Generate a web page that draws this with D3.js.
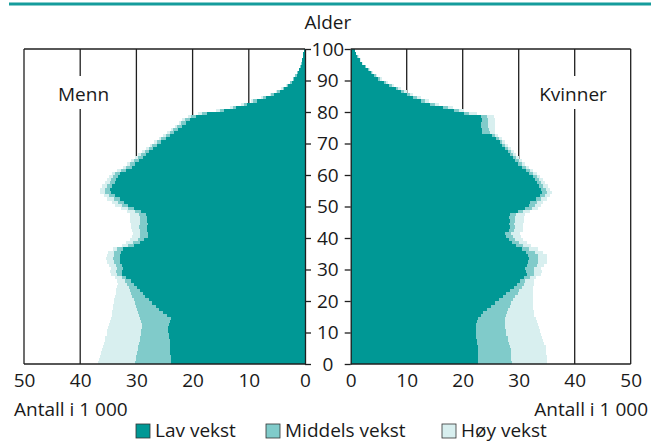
<!DOCTYPE html>
<html>
<head>
<meta charset="utf-8">
<script src="https://cdn.jsdelivr.net/npm/d3@7"></script>
<style>
  body { margin: 0; background: #fff; }
  svg { display: block; font-family: "Open Sans", "Noto Sans", sans-serif; }
</style>
</head>
<body>
<svg id="chart" width="651" height="443"></svg>
<script>
// ages 0..99, values in 1 000 persons
const ages = d3.range(0, 100);

const menLav = [
  23.8, 23.9, 23.9, 24.0, 24.0, 24.0, 24.1, 24.1, 24.2, 24.2,
  24.3, 24.3, 24.2, 24.0, 23.9, 24.6, 25.2, 25.9, 26.6, 27.2,
  27.8, 28.4, 28.9, 29.4, 29.9, 30.4, 31.0, 31.8, 32.5, 32.6,
  32.4, 32.6, 32.9, 33.0, 32.9, 32.8, 32.4, 30.5, 29.4, 28.6,
  28.0, 27.9, 28.1, 28.2, 28.0, 28.2, 28.1, 28.3, 29.2, 30.5,
  31.5, 32.2, 33.0, 33.8, 34.5, 34.7, 34.3, 33.8, 33.6, 33.3,
  32.9, 31.8, 30.8, 30.2, 29.6, 28.9, 28.3, 27.7, 27.0, 26.4,
  25.6, 24.8, 24.0, 23.3, 22.6, 21.9, 21.2, 20.5, 19.4, 17.5,
  14.5, 12.2, 10.3, 8.6, 6.9, 5.6, 4.5, 3.7, 3.0, 2.4,
  1.9, 1.5, 1.2, 1.0, 0.8, 0.6, 0.5, 0.4, 0.3, 0.2
];
const menMiddels = [
  30.2, 30.1, 30.0, 29.9, 29.8, 29.7, 29.6, 29.4, 29.3, 29.2,
  29.1, 29.0, 29.0, 29.1, 29.3, 29.5, 29.7, 29.9, 30.1, 30.3,
  30.5, 30.7, 30.9, 31.1, 31.4, 31.7, 32.0, 32.5, 33.4, 33.6,
  33.5, 33.7, 33.9, 34.1, 34.0, 33.9, 33.5, 31.5, 30.6, 29.8,
  29.3, 29.3, 29.4, 29.5, 29.3, 29.4, 29.4, 29.6, 30.2, 31.5,
  32.5, 33.2, 34.0, 34.8, 35.5, 35.6, 35.2, 34.7, 34.5, 34.2,
  33.8, 32.8, 31.8, 31.1, 30.5, 29.8, 29.2, 28.5, 27.8, 27.2,
  26.4, 25.6, 24.8, 24.1, 23.4, 22.7, 22.0, 21.3, 20.2, 18.3,
  15.2, 12.8, 10.9, 9.2, 7.4, 6.0, 4.9, 4.0, 3.2, 2.6,
  2.1, 1.7, 1.4, 1.1, 0.9, 0.7, 0.5, 0.4, 0.3, 0.2
];
const menHoy = [
  36.8, 36.6, 36.4, 36.3, 36.2, 36.0, 35.8, 35.6, 35.5, 35.3,
  35.2, 35.0, 34.8, 34.7, 34.5, 34.4, 34.3, 34.2, 34.1, 34.0,
  33.9, 33.8, 33.7, 33.6, 33.5, 33.3, 33.5, 33.8, 34.5, 34.7,
  34.6, 34.9, 35.2, 35.4, 35.3, 35.1, 34.2, 32.5, 31.9, 31.2,
  30.7, 30.6, 30.8, 31.0, 30.9, 31.1, 31.1, 31.2, 31.6, 32.8,
  33.8, 34.4, 35.2, 35.8, 36.4, 36.5, 36.1, 35.6, 35.3, 34.9,
  34.4, 33.4, 32.3, 31.6, 31.0, 30.3, 29.7, 29.0, 28.3, 27.6,
  26.8, 26.0, 25.3, 24.6, 23.9, 23.2, 22.5, 21.9, 20.9, 19.0,
  15.8, 13.3, 11.4, 9.6, 7.8, 6.3, 5.1, 4.2, 3.4, 2.7,
  2.2, 1.8, 1.4, 1.1, 0.9, 0.7, 0.5, 0.4, 0.3, 0.2
];

const kvinnerLav = [
  22.8, 22.8, 22.8, 22.7, 22.7, 22.7, 22.6, 22.5, 22.4, 22.4,
  22.3, 22.3, 22.4, 22.6, 22.8, 23.2, 23.7, 24.4, 25.1, 25.8,
  26.5, 27.2, 27.8, 28.4, 29.1, 29.7, 30.3, 31.0, 31.4, 31.3,
  31.2, 31.5, 31.7, 31.8, 31.7, 31.3, 30.6, 29.6, 28.8, 28.2,
  27.8, 27.6, 28.2, 28.4, 28.3, 28.4, 28.3, 28.5, 29.8, 31.2,
  31.9, 32.1, 33.0, 33.8, 34.2, 34.0, 33.6, 33.2, 32.9, 32.5,
  31.9, 31.3, 30.6, 29.9, 29.4, 28.9, 28.5, 28.1, 27.6, 27.0,
  26.6, 26.0, 25.3, 23.5, 23.4, 23.3, 23.3, 23.4, 23.2, 20.3,
  18.5, 16.5, 14.2, 12.6, 11.2, 10.0, 9.0, 8.0, 6.9, 5.9,
  4.9, 4.2, 3.6, 3.0, 2.5, 2.0, 1.6, 1.2, 0.9, 0.7
];
const kvinnerMiddels = [
  28.8, 28.7, 28.7, 28.6, 28.6, 28.5, 28.3, 28.1, 28.0, 27.8,
  27.7, 27.6, 27.6, 27.6, 27.6, 27.8, 27.9, 28.1, 28.4, 28.7,
  29.0, 29.4, 29.8, 30.1, 30.5, 30.9, 31.2, 32.0, 32.8, 32.8,
  32.7, 33.2, 33.5, 33.5, 33.4, 32.9, 31.9, 30.8, 30.0, 29.3,
  28.9, 28.7, 29.2, 29.3, 29.2, 29.4, 29.4, 29.6, 30.8, 32.3,
  32.9, 33.2, 34.0, 34.7, 35.0, 34.8, 34.4, 34.0, 33.6, 33.2,
  32.6, 32.0, 31.3, 30.5, 30.0, 29.5, 29.0, 28.6, 28.1, 27.5,
  27.1, 26.5, 25.8, 24.8, 24.7, 24.5, 24.5, 24.6, 24.3, 21.2,
  19.3, 17.3, 15.0, 13.3, 11.8, 10.6, 9.5, 8.5, 7.4, 6.3,
  5.3, 4.5, 3.8, 3.2, 2.7, 2.1, 1.7, 1.3, 1.0, 0.7
];
const kvinnerHoy = [
  35.1, 35.0, 35.0, 34.9, 34.9, 34.8, 34.6, 34.4, 34.2, 34.0,
  33.8, 33.6, 33.4, 33.2, 33.0, 32.8, 32.7, 32.6, 32.6, 32.6,
  32.6, 32.6, 32.6, 32.6, 32.6, 32.7, 32.8, 33.0, 34.0, 34.1,
  34.0, 34.6, 35.0, 35.1, 35.0, 34.3, 33.4, 32.2, 31.5, 30.8,
  30.4, 30.2, 30.7, 30.8, 30.8, 31.0, 31.0, 31.2, 32.1, 33.5,
  34.0, 34.4, 35.1, 35.6, 35.9, 35.6, 35.2, 34.7, 34.3, 33.8,
  33.3, 32.6, 31.9, 31.1, 30.6, 30.0, 29.6, 29.1, 28.6, 28.0,
  27.6, 27.0, 26.3, 25.8, 25.8, 25.7, 25.7, 25.8, 25.6, 22.5,
  20.3, 18.2, 15.8, 14.0, 12.5, 11.2, 10.0, 9.0, 7.8, 6.7,
  5.6, 4.7, 4.0, 3.4, 2.8, 2.2, 1.8, 1.4, 1.0, 0.8
];

const xTicks = [0, 10, 20, 30, 40, 50];
const yTicks = [0, 10, 20, 30, 40, 50, 60, 70, 80, 90, 100];
const seriesNames = ["Lav vekst", "Middels vekst", "Høy vekst"];
const colors = ["#009895", "#80cbca", "#d8efef"];

const svg = d3.select("#chart");
const fontSize = 19;

// scales
const y = d3.scaleLinear().domain([0, 100]).range([364, 49]);
const xL = d3.scaleLinear().domain([0, 50]).range([305, 24]);
const xR = d3.scaleLinear().domain([0, 50]).range([350.7, 630.7]);

// teal rule on top
svg.append("line")
  .attr("x1", 9).attr("x2", 651).attr("y1", 4).attr("y2", 4)
  .attr("stroke", "#159c9c").attr("stroke-width", 3);

// grid lines (under the bars)
function grid(x) {
  svg.append("g").selectAll("line")
    .data(xTicks.slice(1))
    .join("line")
    .attr("x1", d => x(d)).attr("x2", d => x(d))
    .attr("y1", y(100)).attr("y2", y(0))
    .attr("stroke", "#1f1f1f").attr("stroke-width", 1.3);
}
grid(xL);
grid(xR);

// labels breaking the grid lines
function panelLabel(text, cx) {
  const g = svg.append("g");
  g.append("rect")
    .attr("x", cx - 40).attr("y", 76).attr("width", 80).attr("height", 33)
    .attr("fill", "#fff");
  g.append("text")
    .attr("x", cx).attr("y", 101)
    .attr("text-anchor", "middle")
    .attr("font-size", fontSize).attr("fill", "#1a1a1a")
    .text(text);
}
panelLabel("Menn", 83.5);
panelLabel("Kvinner", 573);

// bars: høy behind, then middels, then lav in front
const menSeries = [menLav, menMiddels, menHoy];
const womenSeries = [kvinnerLav, kvinnerMiddels, kvinnerHoy];

function drawSide(series, x, left) {
  const g = svg.append("g").attr("shape-rendering", "crispEdges");
  [2, 1, 0].forEach(i => {
    g.append("g").selectAll("rect")
      .data(ages)
      .join("rect")
      .attr("x", a => left ? x(series[i][a]) : x(0))
      .attr("width", a => Math.abs(x(series[i][a]) - x(0)))
      .attr("y", a => y(a + 1))
      .attr("height", a => y(a) - y(a + 1) + 0.4)
      .attr("fill", colors[i]);
  });
}
drawSide(menSeries, xL, true);
drawSide(womenSeries, xR, false);

// panel frames
function frame(x) {
  const x0 = Math.min(x(0), x(50)), x1 = Math.max(x(0), x(50));
  svg.append("line").attr("x1", x0).attr("x2", x1).attr("y1", y(100)).attr("y2", y(100))
    .attr("stroke", "#1f1f1f").attr("stroke-width", 1.3);
  svg.append("line").attr("x1", x0).attr("x2", x1).attr("y1", y(0)).attr("y2", y(0))
    .attr("stroke", "#1f1f1f").attr("stroke-width", 1.3);
}
frame(xL);
frame(xR);

// y axes
const yAxisL = svg.append("g")
  .attr("transform", `translate(${xL(0)},0)`)
  .call(d3.axisRight(y).tickValues(yTicks).tickSize(6).tickSizeOuter(0));
yAxisL.selectAll("text")
  .attr("x", (xR(0) - xL(0)) / 2)
  .attr("text-anchor", "middle");

const yAxisR = svg.append("g")
  .attr("transform", `translate(${xR(0)},0)`)
  .call(d3.axisLeft(y).tickValues(yTicks).tickSize(6).tickSizeOuter(0));
yAxisR.selectAll("text").remove();

// x axes
const xAxisL = svg.append("g")
  .attr("transform", `translate(0,${y(0)})`)
  .call(d3.axisBottom(xL).tickValues(xTicks).tickSize(0).tickPadding(10));
const xAxisR = svg.append("g")
  .attr("transform", `translate(0,${y(0)})`)
  .call(d3.axisBottom(xR).tickValues(xTicks).tickSize(0).tickPadding(10));

svg.selectAll(".tick text")
  .attr("font-size", fontSize)
  .attr("font-family", "Open Sans, Noto Sans, sans-serif")
  .attr("fill", "#1a1a1a");
svg.selectAll(".domain").attr("stroke", "#1f1f1f").attr("stroke-width", 1.3);
svg.selectAll(".tick line").attr("stroke", "#1f1f1f").attr("stroke-width", 1.3);
xAxisL.select(".domain").remove();
xAxisR.select(".domain").remove();

// axis titles
svg.append("text")
  .attr("x", (xR(0) + xL(0)) / 2).attr("y", 29)
  .attr("text-anchor", "middle")
  .attr("font-size", fontSize).attr("fill", "#1a1a1a")
  .text("Alder");

svg.append("text")
  .attr("x", 14).attr("y", 416)
  .attr("font-size", fontSize).attr("fill", "#1a1a1a")
  .text("Antall i 1 000");
svg.append("text")
  .attr("x", 648).attr("y", 416)
  .attr("text-anchor", "end")
  .attr("font-size", fontSize).attr("fill", "#1a1a1a")
  .text("Antall i 1 000");

// legend
const legendX = [136, 266, 442];
const legend = svg.append("g").selectAll("g")
  .data(seriesNames)
  .join("g")
  .attr("transform", (d, i) => `translate(${legendX[i]},424)`);
legend.append("rect")
  .attr("width", 14).attr("height", 14)
  .attr("fill", (d, i) => colors[i])
  .attr("stroke", "#333").attr("stroke-width", 0.8);
legend.append("text")
  .attr("x", 19).attr("y", 13)
  .attr("font-size", fontSize).attr("fill", "#1a1a1a")
  .text(d => d);
</script>
</body>
</html>
